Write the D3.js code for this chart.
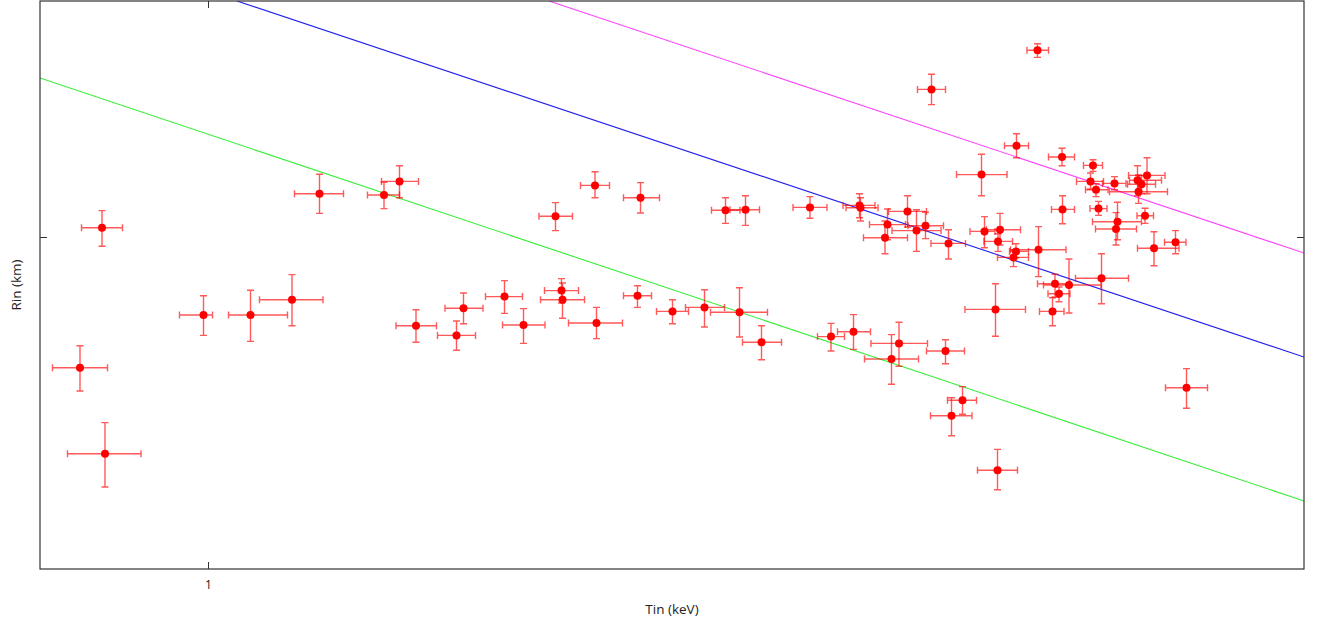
<!DOCTYPE html>
<html>
<head>
<meta charset="utf-8">
<script src="https://cdn.jsdelivr.net/npm/d3@7"></script>
<style>
  body { margin: 0; background: #fff; }
  text { font-family: "Open Sans", "DejaVu Sans", sans-serif; fill: #222; }
</style>
</head>
<body>
<div id="chart"></div>
<script>
// Inner disk temperature (keV) and its error range
var tin   = [0.744, 0.788, 0.794, 0.991, 1.085, 1.168, 1.223, 1.352, 1.383, 1.416,
             1.497, 1.511, 1.593, 1.631, 1.695, 1.707, 1.709, 1.774, 1.777, 1.859,
             1.865, 1.929, 1.993, 2.035, 2.063, 2.075, 2.107, 2.204, 2.246, 2.291,
             2.303, 2.305, 2.354, 2.359, 2.367, 2.382, 2.399, 2.417, 2.435, 2.447,
             2.475, 2.481, 2.487, 2.509, 2.547, 2.553, 2.575, 2.579, 2.580, 2.584,
             2.611, 2.616, 2.617, 2.659, 2.661, 2.689, 2.694, 2.702, 2.708, 2.709,
             2.722, 2.765, 2.770, 2.776, 2.781, 2.787, 2.813, 2.816, 2.819, 2.859,
             2.861, 2.867, 2.874, 2.878, 2.892, 2.935, 2.957];
var tinLo = [0.689, 0.747, 0.719, 0.943, 1.041, 1.103, 1.173, 1.319, 1.347, 1.376,
             1.459, 1.474, 1.555, 1.589, 1.662, 1.673, 1.665, 1.745, 1.721, 1.831,
             1.831, 1.897, 1.955, 2.007, 2.005, 2.044, 2.069, 2.170, 2.219, 2.259,
             2.270, 2.276, 2.311, 2.323, 2.313, 2.326, 2.361, 2.368, 2.400, 2.419,
             2.437, 2.446, 2.445, 2.479, 2.497, 2.524, 2.514, 2.539, 2.552, 2.557,
             2.579, 2.603, 2.593, 2.638, 2.605, 2.663, 2.659, 2.680, 2.681, 2.687,
             2.671, 2.737, 2.751, 2.755, 2.764, 2.735, 2.789, 2.775, 2.769, 2.843,
             2.803, 2.839, 2.858, 2.841, 2.859, 2.913, 2.915];
var tinHi = [0.799, 0.829, 0.866, 1.009, 1.159, 1.230, 1.271, 1.383, 1.421, 1.457,
             1.535, 1.550, 1.629, 1.674, 1.729, 1.741, 1.753, 1.803, 1.829, 1.887,
             1.903, 1.961, 2.033, 2.064, 2.119, 2.103, 2.147, 2.238, 2.273, 2.325,
             2.334, 2.340, 2.399, 2.395, 2.421, 2.439, 2.437, 2.466, 2.471, 2.475,
             2.513, 2.515, 2.528, 2.537, 2.598, 2.574, 2.635, 2.619, 2.609, 2.625,
             2.641, 2.641, 2.641, 2.681, 2.716, 2.712, 2.724, 2.724, 2.733, 2.733,
             2.786, 2.791, 2.789, 2.800, 2.798, 2.841, 2.836, 2.857, 2.867, 2.907,
             2.919, 2.895, 2.891, 2.914, 2.942, 2.956, 2.999];

// Inner disk radius (km) and its error range
var rin   = [67.3, 102.3, 45.8, 80.5, 80.5, 84.3, 110.8, 110.5, 113.9, 77.8,
             75.4, 82.2, 85.1, 78.0, 105.2, 86.6, 84.3, 112.9, 78.5, 85.3,
             109.8, 81.4, 82.4, 106.7, 81.2, 106.8, 73.7, 107.4, 75.1, 76.3,
             107.9, 107.3, 99.8, 103.1, 69.5, 73.4, 106.4, 101.6, 102.8, 136.9,
             71.5, 98.4, 55.3, 59.2, 115.6, 101.4, 81.9, 41.7, 98.9, 101.8,
             94.9, 96.4, 122.8, 146.7, 96.8, 81.4, 88.3, 85.8, 120.0, 106.9,
             88.0, 113.9, 117.9, 111.8, 107.1, 89.7, 113.4, 102.0, 103.8, 114.2,
             111.3, 113.2, 105.3, 115.4, 97.2, 98.7, 62.3];
var rinLo = [61.5, 97.7, 37.5, 75.4, 73.9, 77.8, 105.9, 107.1, 109.8, 73.7,
             71.7, 78.3, 80.9, 73.4, 101.6, 83.5, 79.7, 109.8, 74.6, 82.4,
             106.0, 78.3, 77.5, 103.4, 75.0, 102.9, 69.3, 104.7, 71.5, 71.9,
             104.8, 104.0, 95.8, 99.3, 63.2, 67.7, 102.5, 96.4, 99.6, 133.1,
             68.3, 94.5, 50.3, 55.7, 110.3, 97.3, 75.2, 36.8, 96.4, 98.0,
             92.6, 94.8, 119.8, 144.9, 90.1, 77.8, 85.0, 83.8, 117.8, 103.3,
             81.0, 112.0, 116.4, 110.1, 105.4, 83.3, 111.8, 98.0, 99.3, 110.3,
             108.4, 110.8, 103.4, 110.8, 92.8, 95.8, 57.2];
var rinHi = [72.8, 106.6, 53.6, 85.3, 86.7, 90.6, 115.7, 113.7, 117.8, 81.8,
             79.0, 86.0, 89.1, 82.1, 108.6, 89.6, 88.5, 116.3, 82.4, 87.8,
             113.6, 84.3, 86.8, 109.8, 87.3, 110.3, 77.8, 110.1, 78.4, 80.6,
             110.8, 109.8, 104.0, 107.0, 75.6, 78.7, 110.3, 106.8, 106.2, 140.7,
             74.3, 101.8, 59.8, 62.6, 120.7, 105.1, 88.3, 46.9, 100.8, 105.9,
             96.8, 98.3, 125.8, 148.3, 102.6, 84.8, 90.7, 87.5, 122.2, 110.3,
             94.5, 116.0, 119.3, 113.3, 108.9, 95.8, 115.1, 106.1, 108.7, 117.8,
             115.5, 115.3, 107.2, 119.8, 101.3, 101.6, 67.1];

// Reference lines: start and end points in data units
var lineNames  = ["green", "blue", "magenta"];
var lineColors = ["#33ee33", "#2222ee", "#ff44ff"];
var lineTin0 = [0.664, 1.058, 1.682];
var lineRin0 = [139.75, 159.0, 159.0];
var lineTin1 = [3.192, 3.192, 3.192];
var lineRin1 = [34.0, 70.0, 96.0];

var xTicks = [1];
var yTicks = [100];

var width = 1318, height = 623;
var margin = {left: 40, right: 14, top: 1, bottom: 54};
var innerW = width - margin.left - margin.right;
var innerH = height - margin.top - margin.bottom;

var x = d3.scaleLinear().domain([0.664, 3.192]).range([0, innerW]);
var y = d3.scaleLinear().domain([17, 159]).range([innerH, 0]);

var svg = d3.select("#chart").append("svg")
    .attr("width", width)
    .attr("height", height);

svg.append("defs").append("clipPath")
    .attr("id", "clip")
    .append("rect")
    .attr("width", innerW)
    .attr("height", innerH);

var g = svg.append("g")
    .attr("transform", "translate(" + margin.left + "," + margin.top + ")");

var plot = g.append("g").attr("clip-path", "url(#clip)");

// model lines
plot.selectAll("line.model")
    .data(lineNames)
    .enter()
    .append("line")
    .attr("class", "model")
    .attr("x1", function (d, i) { return x(lineTin0[i]); })
    .attr("y1", function (d, i) { return y(lineRin0[i]); })
    .attr("x2", function (d, i) { return x(lineTin1[i]); })
    .attr("y2", function (d, i) { return y(lineRin1[i]); })
    .style("stroke", function (d, i) { return lineColors[i]; })
    .style("stroke-width", 1.1);

var idx = d3.range(tin.length);
var cap = 3.5;
var barColor = "rgba(255,0,0,0.65)";

var bars = plot.append("g")
    .style("stroke", barColor)
    .style("stroke-width", 1.4)
    .style("fill", "none");

var pts = bars.selectAll("g")
    .data(idx)
    .enter()
    .append("g");

// horizontal error bar
pts.append("path")
    .attr("d", function (i) {
        var yc = y(rin[i]), a = x(tinLo[i]), b = x(tinHi[i]);
        return "M" + a + "," + yc + "H" + b +
            "M" + a + "," + (yc - cap) + "V" + (yc + cap) +
            "M" + b + "," + (yc - cap) + "V" + (yc + cap);
    });

// vertical error bar
pts.append("path")
    .attr("d", function (i) {
        var xc = x(tin[i]), a = y(rinHi[i]), b = y(rinLo[i]);
        return "M" + xc + "," + a + "V" + b +
            "M" + (xc - cap) + "," + a + "H" + (xc + cap) +
            "M" + (xc - cap) + "," + b + "H" + (xc + cap);
    });

plot.selectAll("circle")
    .data(idx)
    .enter()
    .append("circle")
    .attr("cx", function (i) { return x(tin[i]); })
    .attr("cy", function (i) { return y(rin[i]); })
    .attr("r", 4)
    .style("fill", "#ff0000");

// frame and ticks
g.append("rect")
    .attr("width", innerW)
    .attr("height", innerH)
    .style("fill", "none")
    .style("stroke", "#333")
    .style("stroke-width", 1.2);

var tickLen = 7;

g.append("g")
    .attr("transform", "translate(0," + innerH + ")")
    .style("color", "#222")
    .call(d3.axisBottom(x).tickValues(xTicks).tickSizeInner(-tickLen).tickSizeOuter(0).tickPadding(11)
        .tickFormat(d3.format("d")))
    .call(function (ax) {
        ax.select(".domain").remove();
        ax.selectAll("line").style("stroke", "#333");
        ax.selectAll("text").style("font-size", "12px").style("fill", "#222");
    });

g.append("g")
    .call(d3.axisTop(x).tickValues(xTicks).tickSizeInner(-tickLen).tickSizeOuter(0).tickFormat(""))
    .call(function (ax) {
        ax.select(".domain").remove();
        ax.selectAll("line").style("stroke", "#333");
    });

g.append("g")
    .call(d3.axisLeft(y).tickValues(yTicks).tickSizeInner(-tickLen).tickSizeOuter(0).tickFormat(""))
    .call(function (ax) {
        ax.select(".domain").remove();
        ax.selectAll("line").style("stroke", "#333");
    });

g.append("g")
    .attr("transform", "translate(" + innerW + ",0)")
    .call(d3.axisRight(y).tickValues(yTicks).tickSizeInner(-tickLen).tickSizeOuter(0).tickFormat(""))
    .call(function (ax) {
        ax.select(".domain").remove();
        ax.selectAll("line").style("stroke", "#333");
    });

// axis titles
svg.append("text")
    .attr("x", margin.left + innerW / 2)
    .attr("y", 614)
    .attr("text-anchor", "middle")
    .style("font-size", "13.5px")
    .text("Tin (keV)");

svg.append("text")
    .attr("transform", "translate(21," + (margin.top + innerH / 2) + ") rotate(-90)")
    .attr("text-anchor", "middle")
    .style("font-size", "13.5px")
    .text("Rin (km)");
</script>
</body>
</html>
